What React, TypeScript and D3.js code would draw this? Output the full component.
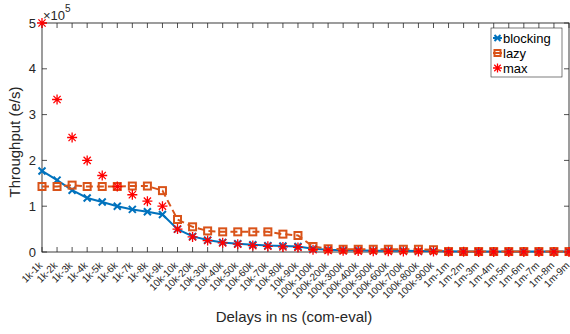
import React from "react";
import * as d3 from "d3";

// delay categories (com-eval)
const CATEGORIES = [
  "1k-1k", "1k-2k", "1k-3k", "1k-4k", "1k-5k", "1k-6k", "1k-7k", "1k-8k", "1k-9k",
  "10k-10k", "10k-20k", "10k-30k", "10k-40k", "10k-50k", "10k-60k", "10k-70k", "10k-80k", "10k-90k",
  "100k-100k", "100k-200k", "100k-300k", "100k-400k", "100k-500k", "100k-600k", "100k-700k", "100k-800k", "100k-900k",
  "1m-1m", "1m-2m", "1m-3m", "1m-4m", "1m-5m", "1m-6m", "1m-7m", "1m-8m", "1m-9m"
];

// throughput, in units of 1e5 e/s
const BLOCKING = [
  1.77, 1.57, 1.35, 1.18, 1.09, 1.0, 0.93, 0.88, 0.82,
  0.5, 0.34, 0.26, 0.21, 0.18, 0.16, 0.14, 0.13, 0.12,
  0.07, 0.05, 0.04, 0.04, 0.03, 0.03, 0.03, 0.02, 0.02,
  0.015, 0.012, 0.01, 0.01, 0.01, 0.01, 0.01, 0.01, 0.01
];
const LAZY = [
  1.43, 1.43, 1.46, 1.43, 1.43, 1.43, 1.44, 1.44, 1.34,
  0.71, 0.55, 0.46, 0.44, 0.44, 0.44, 0.44, 0.39, 0.36,
  0.12, 0.07, 0.06, 0.06, 0.06, 0.06, 0.06, 0.06, 0.05,
  0.01, 0.01, 0.01, 0.01, 0.01, 0.01, 0.01, 0.01, 0.01
];
const MAX = [
  5.0, 3.33, 2.5, 2.0, 1.67, 1.43, 1.25, 1.11, 1.0,
  0.5, 0.33, 0.25, 0.2, 0.17, 0.14, 0.125, 0.11, 0.1,
  0.05, 0.033, 0.025, 0.02, 0.017, 0.014, 0.0125, 0.011, 0.01,
  0.005, 0.0033, 0.0025, 0.002, 0.0017, 0.0014, 0.00125, 0.0011, 0.001
];
const Y_TICKS = [0, 1, 2, 3, 4, 5];

const WIDTH = 570;
const HEIGHT = 334;
const LEFT = 42;
const RIGHT = 569;
const TOP = 23;
const BOTTOM = 252;
const AXIS = "#262626";
const BLUE = "#0072BD";
const ORANGE = "#D95319";
const RED = "#FF0000";
const FONT = "'Liberation Sans', Arial, Helvetica, sans-serif";

const xScale = d3.scalePoint<string>().domain(CATEGORIES).range([LEFT, RIGHT]);
const yScale = d3.scaleLinear().domain([0, 5]).range([BOTTOM, TOP]);

const lineGen = d3
  .line<number>()
  .x((_, i) => xScale(CATEGORIES[i]) as number)
  .y((d) => yScale(d));

function XMark({ x, y, r, color }: { x: number; y: number; r: number; color: string }) {
  return (
    <path
      d={`M${x - r},${y - r}L${x + r},${y + r}M${x - r},${y + r}L${x + r},${y - r}`}
      stroke={color}
      strokeWidth={2}
      fill="none"
    />
  );
}

function Star({ x, y, r, color }: { x: number; y: number; r: number; color: string }) {
  const k = r * 0.72;
  return (
    <path
      d={`M${x - r},${y}L${x + r},${y}M${x},${y - r}L${x},${y + r}M${x - k},${y - k}L${x + k},${y + k}M${x - k},${y + k}L${x + k},${y - k}`}
      stroke={color}
      strokeWidth={1.3}
      fill="none"
    />
  );
}

function Square({ x, y, s, color }: { x: number; y: number; s: number; color: string }) {
  return <rect x={x - s / 2} y={y - s / 2} width={s} height={s} stroke={color} strokeWidth={2} fill="none" />;
}

export default function App() {
  return (
    <svg
      width={WIDTH}
      height={HEIGHT}
      style={{ position: "absolute", left: 0, top: 0, background: "#fff" }}
      fontFamily={FONT}
    >
      {/* ticks */}
      {CATEGORIES.map((c) => {
        const x = xScale(c) as number;
        return (
          <g key={c} stroke={AXIS} strokeWidth={0.8}>
            <line x1={x} x2={x} y1={BOTTOM} y2={BOTTOM - 5} />
            <line x1={x} x2={x} y1={TOP} y2={TOP + 5} />
          </g>
        );
      })}
      {Y_TICKS.map((t) => (
        <g key={t} stroke={AXIS} strokeWidth={0.8}>
          <line x1={LEFT} x2={LEFT + 5} y1={yScale(t)} y2={yScale(t)} />
          <line x1={RIGHT} x2={RIGHT - 5} y1={yScale(t)} y2={yScale(t)} />
        </g>
      ))}
      <rect x={LEFT} y={TOP} width={RIGHT - LEFT} height={BOTTOM - TOP} fill="none" stroke={AXIS} strokeWidth={0.9} />

      {/* tick labels */}
      {Y_TICKS.map((t) => (
        <text key={t} x={LEFT - 6} y={yScale(t)} dy="0.36em" textAnchor="end" fontSize={13} fill={AXIS}>
          {t}
        </text>
      ))}
      {CATEGORIES.map((c) => {
        const x = xScale(c) as number;
        return (
          <text
            key={c}
            transform={`translate(${x - 4},${BOTTOM + 9}) rotate(-45)`}
            textAnchor="end"
            dy="0.71em"
            fontSize={10}
            fill={AXIS}
          >
            {c}
          </text>
        );
      })}
      <text x={LEFT + 1} y={20} fontSize={13} fill={AXIS}>
        ×10
        <tspan dy={-8} fontSize={10}>5</tspan>
      </text>

      {/* axis labels */}
      <text x={294} y={322} textAnchor="middle" fontSize={15} fill={AXIS}>
        Delays in ns (com-eval)
      </text>
      <text transform={`translate(20,142) rotate(-90)`} textAnchor="middle" fontSize={15} fill={AXIS}>
        Throughput (e/s)
      </text>

      {/* series */}
      <path d={lineGen(BLOCKING) || ""} stroke={BLUE} strokeWidth={2} fill="none" />
      {BLOCKING.map((v, i) => (
        <XMark key={i} x={xScale(CATEGORIES[i]) as number} y={yScale(v)} r={3.5} color={BLUE} />
      ))}
      <path d={lineGen(LAZY) || ""} stroke={ORANGE} strokeWidth={2} strokeDasharray="7,4" fill="none" />
      {LAZY.map((v, i) => (
        <Square key={i} x={xScale(CATEGORIES[i]) as number} y={yScale(v)} s={7} color={ORANGE} />
      ))}
      {MAX.map((v, i) => (
        <Star key={i} x={xScale(CATEGORIES[i]) as number} y={yScale(v)} r={5} color={RED} />
      ))}

      {/* legend */}
      <g>
        <rect x={491} y={28} width={71} height={49} fill="#fff" stroke={AXIS} strokeWidth={0.6} />
        <line x1={493} x2={502} y1={38} y2={38} stroke={BLUE} strokeWidth={2} />
        <XMark x={497.5} y={38} r={3} color={BLUE} />
        <text x={503} y={38} dy="0.36em" fontSize={13} fill="#000">blocking</text>
        <line x1={493} x2={502} y1={53} y2={53} stroke={ORANGE} strokeWidth={2} />
        <Square x={497.5} y={53} s={6} color={ORANGE} />
        <text x={503} y={53} dy="0.36em" fontSize={13} fill="#000">lazy</text>
        <Star x={497.5} y={68} r={4.5} color={RED} />
        <text x={503} y={68} dy="0.36em" fontSize={13} fill="#000">max</text>
      </g>
    </svg>
  );
}
